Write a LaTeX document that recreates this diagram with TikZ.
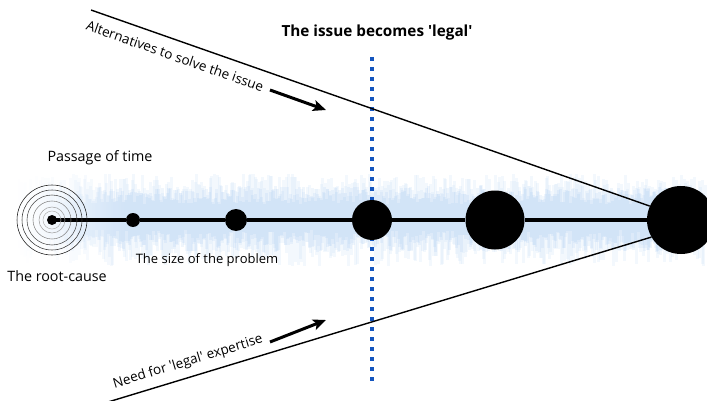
\documentclass[tikz,border=0pt]{standalone}
\usepackage{fontspec}
\setmainfont{Open Sans}
\usetikzlibrary{arrows.meta}
\definecolor{hazeblue}{RGB}{140,185,235}
\definecolor{legalblue}{RGB}{20,85,190}
\definecolor{ringgray}{RGB}{120,120,120}
\tikzset{
  dot/.style={circle, fill=black, inner sep=0pt, minimum size=#1},
  axisline/.style={line width=4pt},
  edgeline/.style={line width=1.4pt},
  pointer/.style={line width=3pt, -{Stealth[length=13pt, width=11pt, inset=3pt]}},
  legalline/.style={legalblue, line width=4pt, dash pattern=on 4pt off 6pt},
  label/.style={font=\fontsize{14.3}{16}\selectfont, inner sep=1pt},
  slanted label/.style={font=\fontsize{13.5}{15}\selectfont, inner sep=1pt},
  smalllabel/.style={font=\fontsize{13}{15}\selectfont, inner sep=1pt},
  ring/.style={line width=0.55pt}
}
\begin{document}
\begin{tikzpicture}[x=1pt, y=-1pt]
\useasboundingbox (0,0) rectangle (707,401);
% soft blue band along the timeline
\pgfmathsetseed{11}
\foreach \i in {0,...,460} {
  \pgfmathsetmacro\xx{15+1.5*\i}
  \pgfmathsetmacro\ya{174+26*rnd}
  \pgfmathsetmacro\yb{236+30*rnd}
  \pgfmathsetmacro\op{0.10*min(1,(\xx-15)/100)}
  \draw[hazeblue, line width=3pt, opacity=\op] (\xx,\ya) -- (\xx,\yb);
}
\foreach \i in {0,...,440} {
  \pgfmathsetmacro\xx{35+1.5*\i}
  \pgfmathsetmacro\ya{186+18*rnd}
  \pgfmathsetmacro\yb{230+22*rnd}
  \pgfmathsetmacro\op{0.13*min(1,(\xx-35)/90)}
  \draw[hazeblue, line width=3pt, opacity=\op] (\xx,\ya) -- (\xx,\yb);
}
% the moment the issue becomes legal
\coordinate (lt) at (372,57);
\coordinate (lb) at (372,384);
\draw[legalline] (lt) -- (lb);
% growing problem along the timeline
\node[dot=10pt] (root) at (52,220) {};
\node[dot=14pt] (d1) at (133,220) {};
\node[dot=22pt] (d2) at (236,220) {};
\node[dot=40pt] (d3) at (372,220) {};
\node[dot=59pt] (d4) at (495,220) {};
\node[dot=68pt] (big) at (681,220) {};
\draw[axisline] (root.center) -- (d1) -- (d2) -- (d3) -- (d4) -- (big);
% ripples around the root-cause
\foreach \r/\c in {35/black!90,30/black!80,25/black!70,19/ringgray!90,13/ringgray!70,9/ringgray!55}
  \draw[ring, \c] (root.center) circle[radius=\r];
% converging boundaries
\coordinate (ua) at (91,10);
\coordinate (la) at (108,402);
\draw[edgeline] (ua) -- (big.156);
\draw[edgeline] (la) -- (big.210);
% pointers
\coordinate (pa1) at (270,90);
\coordinate (pa2) at (326,110);
\coordinate (pb1) at (270,342);
\coordinate (pb2) at (326,320);
\draw[pointer] (pa1) -- (pa2);
\draw[pointer] (pb1) -- (pb2);
% texts
\node[font=\bfseries\fontsize{15.3}{17}\selectfont] (title) at (377,33) {The issue becomes \textquotesingle legal\textquotesingle};
\node[label] (time) at (100,158) {Passage of time};
\node[label] (cause) at (57,276) {The root-cause};
\node[smalllabel] (size) at (207,260) {The size of the problem};
\node[slanted label, rotate=-19.3] (alt) at (175,56) {Alternatives to solve the issue};
\node[slanted label, rotate=16.9] (need) at (188,362) {Need for \textquotesingle legal\textquotesingle\ expertise};
\end{tikzpicture}
\end{document}
